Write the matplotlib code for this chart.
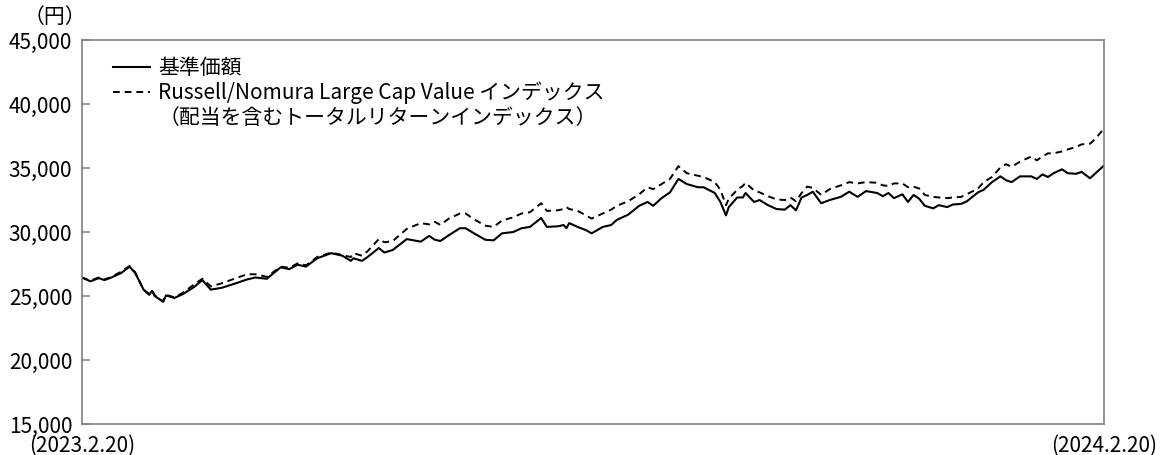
import matplotlib
matplotlib.use("Agg")
import matplotlib.pyplot as plt
from matplotlib.lines import Line2D
import matplotlib.ticker as mticker
import pandas as pd

plt.rcParams['font.family'] = ['Noto Sans CJK JP', 'DejaVu Sans']

start = pd.Timestamp("2023-02-20")
end = pd.Timestamp("2024-02-20")

# days after 2023-02-20
days = [0, 3, 6, 8, 10, 14, 17, 19, 22, 24, 25, 26, 29, 30, 33, 36, 40, 43, 46, 50,
        55, 59, 62, 66, 71, 74, 77, 80, 84, 89, 93, 96, 97, 100, 102, 106, 108, 111, 116, 121,
        124, 126, 128, 131, 135, 137, 140, 144, 147, 150, 154, 157, 160, 164, 166, 170, 172, 173, 174, 177,
        180, 182, 186, 189, 191, 195, 199, 202, 204, 207, 210, 213, 216, 220, 222, 226, 228, 230, 231, 234,
        236, 237, 240, 242, 245, 248, 251, 253, 255, 257, 259, 261, 264, 267, 271, 274, 277, 280, 284, 286,
        288, 290, 293, 295, 297, 299, 301, 304, 306, 309, 311, 314, 316, 320, 322, 325, 328, 330, 332, 335,
        339, 341, 343, 345, 347, 350, 352, 355, 357, 360, 362, 365]

nav = [26450, 26150, 26400, 26250, 26400, 26800, 27300, 26800, 25500, 25100, 25400, 25000, 24550, 25050, 24850, 25150, 25700, 26250, 25500, 25650,
       26000, 26300, 26450, 26350, 27250, 27100, 27450, 27300, 27950, 28350, 28150, 27750, 27950, 27750, 28050, 28750, 28400, 28600, 29450, 29250,
       29700, 29400, 29300, 29750, 30300, 30300, 29900, 29400, 29350, 29900, 30000, 30300, 30400, 31100, 30400, 30450, 30550, 30300, 30700, 30400,
       30150, 29900, 30400, 30550, 30950, 31350, 32050, 32350, 32050, 32650, 33100, 34150, 33750, 33500, 33500, 33050, 32350, 31300, 31950, 32700,
       32700, 33050, 32350, 32500, 32100, 31800, 31750, 32100, 31700, 32700, 32900, 33150, 32250, 32500, 32750, 33150, 32750, 33200, 33050, 32800,
       33050, 32650, 32950, 32350, 32900, 32600, 32050, 31850, 32100, 31950, 32150, 32200, 32400, 33100, 33300, 33900, 34350, 34050, 33900, 34350,
       34350, 34150, 34500, 34300, 34600, 34900, 34600, 34550, 34700, 34200, 34600, 35200]

bench = [26450, 26200, 26450, 26300, 26450, 26900, 27350, 26850, 25500, 25150, 25450, 25050, 24600, 25100, 24900, 25250, 25900, 26350, 25750, 26000,
         26400, 26700, 26700, 26500, 27300, 27200, 27550, 27400, 28050, 28400, 28200, 28050, 28350, 28150, 28500, 29450, 29200, 29300, 30250, 30700,
         30600, 30800, 30550, 31050, 31450, 31450, 31000, 30500, 30400, 30900, 31150, 31450, 31550, 32250, 31650, 31700, 31800, 31950, 31800, 31650,
         31300, 31050, 31450, 31750, 32050, 32400, 32950, 33500, 33350, 33750, 34150, 35150, 34600, 34400, 34300, 33900, 33300, 32100, 32600, 33300,
         33600, 33850, 33250, 33100, 32800, 32550, 32500, 32700, 32400, 33050, 33550, 33450, 32900, 33350, 33650, 33900, 33800, 33900, 33850, 33650,
         33600, 33800, 33800, 33500, 33550, 33400, 32900, 32750, 32700, 32650, 32700, 32750, 32950, 33400, 33900, 34300, 35050, 35300, 35100, 35500,
         35900, 35600, 35900, 36150, 36150, 36300, 36450, 36650, 36850, 36900, 37300, 38100]

labels = ["基準価額",
          "Russell/Nomura Large Cap Value インデックス",
          "（配当を含むトータルリターンインデックス）"]

dates = start + pd.to_timedelta(days, unit="D")

fig = plt.figure(figsize=(11.71, 4.55), dpi=100)
ax = fig.add_axes([0.070, 0.068, 0.8728, 0.844])

ax.plot(dates, nav, color="black", lw=1.5)
ax.plot(dates, bench, color="black", lw=1.4, linestyle=(0, (3.5, 2.5)))

ax.set_xlim(start, end)
ax.set_ylim(15000, 45000)
ax.set_yticks(range(15000, 45001, 5000))
ax.yaxis.set_major_formatter(mticker.FuncFormatter(lambda v, p: "{:,}".format(int(v))))
ax.tick_params(axis="y", direction="in", length=6, width=1.1, color="#808080",
               labelsize=15, pad=7)
ax.set_xticks([start, end])
ax.set_xticklabels(["(2023.2.20)", "(2024.2.20)"])
ax.tick_params(axis="x", length=0, labelsize=15, pad=8)
for s in ax.spines.values():
    s.set_color("#808080")
    s.set_linewidth(1.2)

ax.text(-0.027, 1.06, "（円）", transform=ax.transAxes, ha="center", va="center", fontsize=15)

handles = [Line2D([], [], color="black", lw=1.5),
           Line2D([], [], color="black", lw=1.4, linestyle=(0, (3.5, 2.5))),
           Line2D([], [], color="none")]
ax.legend(handles, labels, loc="upper left", bbox_to_anchor=(0.03, 0.955),
          frameon=False, fontsize=15, handlelength=1.8, handletextpad=0.4,
          labelspacing=0.12, borderpad=0, borderaxespad=0)

fig.savefig("out.png", dpi=100)
